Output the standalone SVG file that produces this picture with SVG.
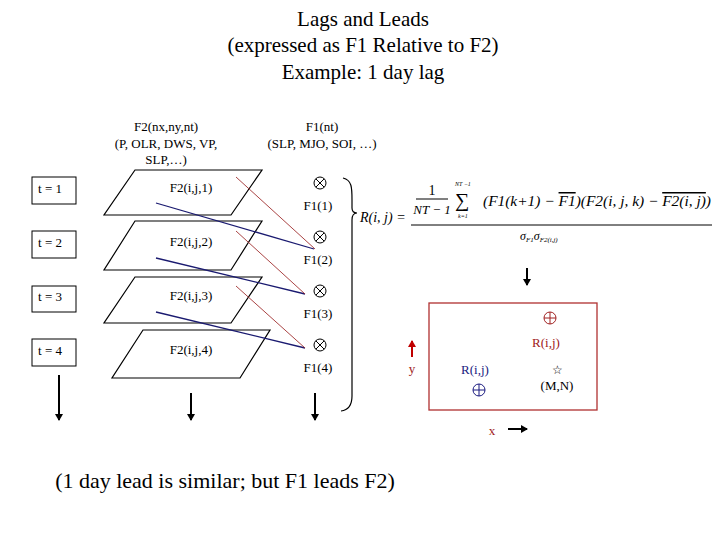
<svg xmlns="http://www.w3.org/2000/svg" width="720" height="540" viewBox="0 0 720 540">
<defs>
<marker id="ah" markerWidth="8" markerHeight="8" refX="6" refY="4" orient="auto" markerUnits="userSpaceOnUse"><path d="M0,0 L7,4 L0,8 z" fill="#000"/></marker>
<marker id="ahr" markerWidth="8" markerHeight="8" refX="6" refY="4" orient="auto" markerUnits="userSpaceOnUse"><path d="M0,0 L7,4 L0,8 z" fill="#c00000"/></marker>
<style>
text{font-family:"Liberation Serif",serif;fill:#000}
.t{font-size:21px;text-anchor:middle}
.s{font-size:13px;text-anchor:middle}
.m{font-style:italic;font-size:15px}
.ov{text-decoration:overline}
.box{fill:#fff;stroke:#000;stroke-width:1}
.pg{fill:#fff;stroke:#000;stroke-width:1.2}
.blue{stroke:#1a1a70;stroke-width:1.3}
.red{stroke:#a03030;stroke-width:0.9}
.arr{stroke:#000;stroke-width:2;marker-end:url(#ah)}
</style>
<g id="cx"><circle r="6" fill="none" stroke="#000"/><path d="M-4.2,-4.2 L4.2,4.2 M-4.2,4.2 L4.2,-4.2" stroke="#000"/></g>
</defs>
<rect width="720" height="540" fill="#fff"/>
<g id="title">
<text class="t" x="363" y="26">Lags and Leads</text>
<text class="t" x="363" y="52">(expressed as F1 Relative to F2)</text>
<text class="t" x="363" y="79">Example: 1 day lag</text>
</g>
<g id="headers">
<text class="s" x="166" y="131">F2(nx,ny,nt)</text>
<text class="s" x="166" y="148">(P, OLR, DWS, VP,</text>
<text class="s" x="166" y="164">SLP,…)</text>
<text class="s" x="322" y="131">F1(nt)</text>
<text class="s" x="322" y="148">(SLP, MJO, SOI, …)</text>
</g>
<g id="t1"><rect class="box" x="32" y="177" width="44" height="27"/><text class="s" x="50" y="193">t = 1</text></g>
<g id="t2"><rect class="box" x="32" y="231" width="44" height="27"/><text class="s" x="50" y="247">t = 2</text></g>
<g id="t3"><rect class="box" x="32" y="286" width="44" height="26"/><text class="s" x="50" y="301">t = 3</text></g>
<g id="t4"><rect class="box" x="32" y="339" width="44" height="27"/><text class="s" x="50" y="355">t = 4</text></g>
<g id="p1"><polygon class="pg" points="135,170 262,170 231,215 104,215"/><text class="s" x="191" y="192">F2(i,j,1)</text></g>
<g id="p2"><polygon class="pg" points="135,221 262,221 231,270 104,270"/><text class="s" x="191" y="246">F2(i,j,2)</text></g>
<g id="p3"><polygon class="pg" points="135,277 262,277 231,323 104,323"/><text class="s" x="191" y="300">F2(i,j,3)</text></g>
<g id="p4"><polygon class="pg" points="143,330 270,330 240,378 112,378"/><text class="s" x="191" y="354">F2(i,j,4)</text></g>
<g id="f1"><use href="#cx" x="320" y="183"/><text class="s" x="318" y="210">F1(1)</text></g>
<g id="f2"><use href="#cx" x="320" y="237"/><text class="s" x="318" y="264">F1(2)</text></g>
<g id="f3"><use href="#cx" x="320" y="291"/><text class="s" x="318" y="318">F1(3)</text></g>
<g id="f4"><use href="#cx" x="320" y="345"/><text class="s" x="318" y="372">F1(4)</text></g>
<g id="connectors" fill="none">
<line class="blue" x1="156" y1="203" x2="314" y2="249"/>
<line class="blue" x1="156" y1="258" x2="305" y2="294"/>
<line class="blue" x1="156" y1="312" x2="305" y2="348"/>
<line class="red" x1="236" y1="177" x2="315" y2="249"/>
<line class="red" x1="236" y1="231" x2="305" y2="294"/>
<line class="red" x1="236" y1="286" x2="305" y2="348"/>
<line class="arr" x1="59" y1="375" x2="59" y2="420"/>
<line class="arr" x1="191" y1="393" x2="191" y2="420"/>
<line class="arr" x1="315" y1="393" x2="315" y2="420"/>
<line class="arr" x1="527" y1="268" x2="527" y2="285"/>
<line class="arr" x1="508" y1="429" x2="527" y2="429"/>
<line x1="412" y1="357" x2="412" y2="341" stroke="#c00000" stroke-width="2" marker-end="url(#ahr)"/>
<path d="M343,178 C352,180 352,188 352,200 L352,208 C352,212 354,213 357,213 C354,213 352,215 352,220 L352,396 C352,404 349,410 341,411" stroke="#000" stroke-width="1.2"/>
</g>
<g id="formula">
<text class="m" x="360" y="222" style="font-size:14px">R(i, j) =</text>
<line x1="411" y1="225" x2="712" y2="225" stroke="#000"/>
<text x="432" y="195" style="font-size:14px;text-anchor:middle">1</text>
<line x1="416" y1="199" x2="448" y2="199" stroke="#000"/>
<text class="m" x="432" y="214" style="text-anchor:middle;font-size:13px">NT − 1</text>
<text x="455" y="207" style="font-size:20px">∑</text>
<text class="m" x="455" y="186" style="font-size:6px">NT −1</text>
<text class="m" x="458" y="218" style="font-size:6px">k=1</text>
<text class="m" x="483" y="206" textLength="228" lengthAdjust="spacingAndGlyphs">(F1(k+1) − <tspan class="ov">F1</tspan>)(F2(i, j, k) − <tspan class="ov">F2(i, j)</tspan>)</text>
<text class="m" x="520" y="240" style="font-size:12px">σ<tspan font-size="7" dy="2">F1</tspan><tspan dy="-2">σ</tspan><tspan font-size="7" dy="2">F2(i,j)</tspan></text>
</g>
<g id="plot">
<rect x="429" y="303" width="168" height="107" fill="none" stroke="#b03030" stroke-width="1.3"/>
<circle cx="550" cy="318" r="6" fill="none" stroke="#a02020"/><path d="M544,318 H556 M550,312 V324" stroke="#a02020"/>
<text class="s" x="546" y="347" style="fill:#a02020">R(i,j)</text>
<text class="s" x="475" y="374" style="fill:#1a1a80">R(i,j)</text>
<circle cx="479" cy="390" r="6" fill="none" stroke="#1a1a80"/><path d="M473,390 H485 M479,384 V396" stroke="#1a1a80"/>
<text class="s" x="557" y="374" style="font-size:12px">☆</text>
<text class="s" x="557" y="390">(M,N)</text>
<text class="s" x="412" y="373" style="fill:#a02020">y</text>
<text class="s" x="492" y="435" style="fill:#a02020">x</text>
</g>
<text x="225" y="488" style="font-size:22px;text-anchor:middle">(1 day lead is similar; but F1 leads F2)</text>
</svg>
